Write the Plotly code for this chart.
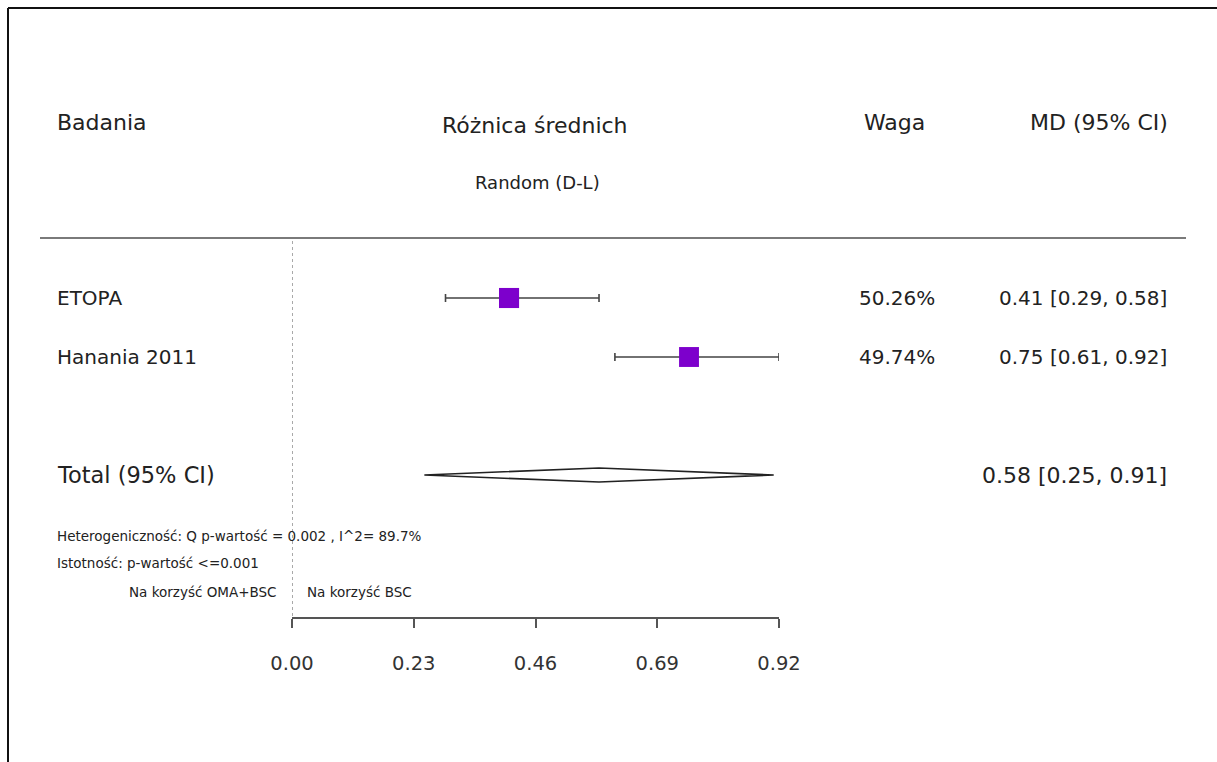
import plotly.graph_objects as go

# ---- data ----
studies = ["ETOPA", "Hanania 2011"]
md = [0.41, 0.75]
ci_low = [0.29, 0.61]
ci_high = [0.58, 0.92]
weight_pct = [50.26, 49.74]
total_md = 0.58
total_low = 0.25
total_high = 0.91
tick_vals = [0.00, 0.23, 0.46, 0.69, 0.92]
tick_text = ["0.00", "0.23", "0.46", "0.69", "0.92"]

# ---- layout constants (pixels) ----
W, H = 1217, 762
row_y = [298, 357]
total_y = 475
FONT = "DejaVu Sans"
TXT = "#222222"


def px(x):
    return x / W


def py(y):
    return 1 - y / H


fig = go.Figure()

# study CIs with squares sized by weight
fig.add_trace(go.Scatter(
    x=md, y=row_y, mode="markers",
    marker=dict(symbol="square", size=[0.4 * w for w in weight_pct],
                color="#7d00cc", opacity=1, line=dict(width=0)),
    error_x=dict(type="data", symmetric=False,
                 array=[h - m for h, m in zip(ci_high, md)],
                 arrayminus=[m - l for m, l in zip(md, ci_low)],
                 color="#444444", thickness=1.6, width=4),
    cliponaxis=False, hoverinfo="skip", showlegend=False,
))

# pooled estimate diamond
d_half = 7
fig.add_trace(go.Scatter(
    x=[total_low, total_md, total_high, total_md, total_low],
    y=[total_y, total_y - d_half, total_y, total_y + d_half, total_y],
    mode="lines", fill="toself", fillcolor="white",
    line=dict(color="#222222", width=1.6),
    cliponaxis=False, hoverinfo="skip", showlegend=False,
))

# no-effect reference line
fig.add_trace(go.Scatter(
    x=[0, 0], y=[241, 617], mode="lines",
    line=dict(color="#555555", width=1, dash="dot"),
    hoverinfo="skip", showlegend=False,
))

ann = []


def text(x, y, s, size, anchor="left", color=TXT):
    ann.append(dict(x=px(x), y=py(y), xref="paper", yref="paper", text=s,
                    showarrow=False, xanchor=anchor, yanchor="middle",
                    font=dict(family=FONT, size=size, color=color)))


# header
text(55, 123, "Badania", 22)
text(535, 125, "Różnica średnich", 22, "center")
text(537, 182, "Random (D-L)", 18, "center")
text(862, 122, "Waga", 22)
text(1170, 122, "MD (95% CI)", 22, "right")

# study rows
for name, y, w, m, lo, hi in zip(studies, row_y, weight_pct, md, ci_low, ci_high):
    text(55, y, name, 20)
    text(937, y, f"{w:.2f}%", 20, "right")
    text(1169, y, f"{m:.2f} [{lo:.2f}, {hi:.2f}]", 20, "right")

# total row
text(55, total_y, "Total (95% CI)", 22.5)
text(1169, total_y, f"{total_md:.2f} [{total_low:.2f}, {total_high:.2f}]", 22, "right")

# footnotes
text(55, 536, "Heterogeniczność: Q p-wartość = 0.002 , I^2= 89.7%", 13.5)
text(55, 563, "Istotność: p-wartość <=0.001", 13.5)
text(278, 592, "Na korzyść OMA+BSC", 13.5, "right")
text(305, 592, "Na korzyść BSC", 13.5)

shapes = [
    # outer frame (top and left)
    dict(type="line", xref="paper", yref="paper", x0=px(8), x1=1.0,
         y0=py(8), y1=py(8), line=dict(color="#111111", width=2)),
    dict(type="line", xref="paper", yref="paper", x0=px(8), x1=px(8),
         y0=py(8), y1=0, line=dict(color="#111111", width=2)),
    # header separator
    dict(type="line", xref="paper", yref="paper", x0=px(40), x1=px(1186),
         y0=py(238), y1=py(238), line=dict(color="#7a7a7a", width=2)),
]

fig.update_layout(
    width=W, height=H,
    margin=dict(l=0, r=0, t=0, b=0, autoexpand=False),
    paper_bgcolor="white", plot_bgcolor="white",
    annotations=ann, shapes=shapes,
    xaxis=dict(domain=[px(292), px(779)], range=[0, 0.92],
               tickvals=tick_vals, ticktext=tick_text,
               showline=True, linecolor="#555555", linewidth=2,
               ticks="outside", ticklen=9, tickwidth=2, tickcolor="#555555",
               showgrid=False, zeroline=False, ticklabelstandoff=19,
               automargin=False,
               tickfont=dict(family=FONT, size=19.5, color="#333333"),
               fixedrange=True),
    yaxis=dict(domain=[py(617), 1], range=[617, 0], visible=False,
               automargin=False,
               showgrid=False, zeroline=False, fixedrange=True),
)

fig.write_html("out.html")
